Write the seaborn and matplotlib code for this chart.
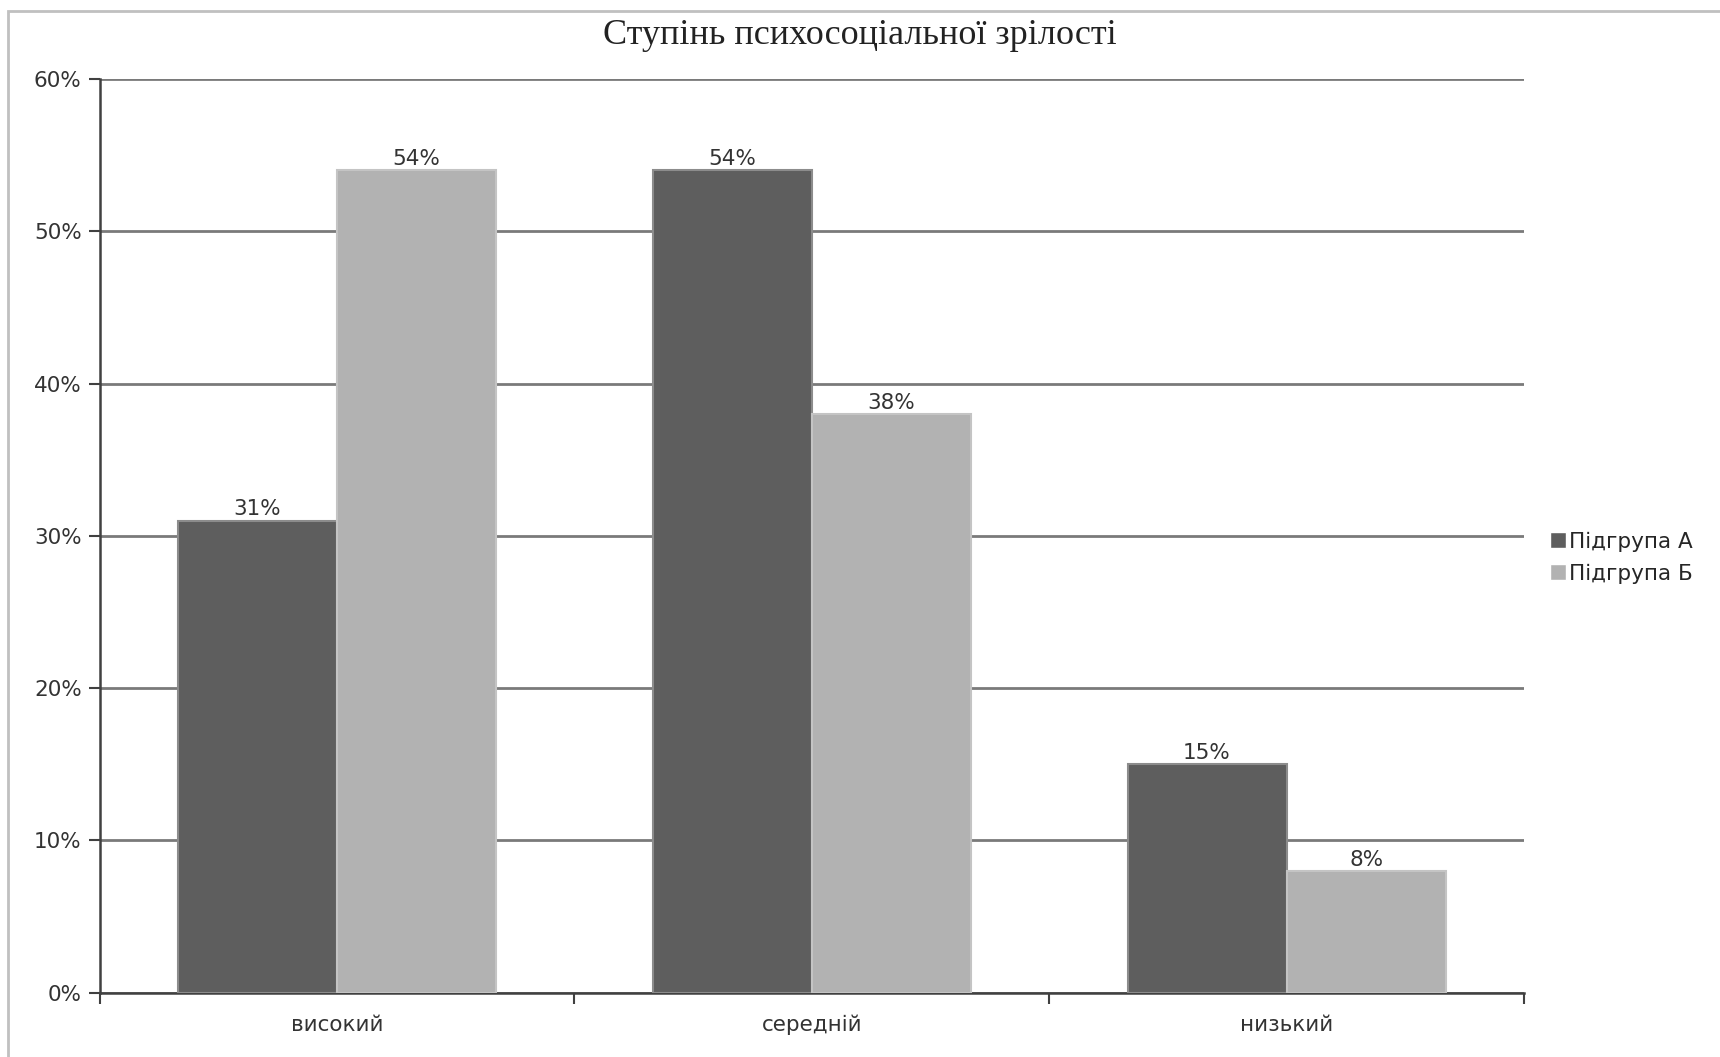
import matplotlib
matplotlib.use('Agg')
import matplotlib.pyplot as plt
import seaborn as sns
import pandas as pd
from matplotlib.patches import Rectangle
from matplotlib.ticker import FuncFormatter

sns.set_theme(style="white")
plt.rcParams['font.family'] = ['DejaVu Sans']

# Data
categories = ['високий', 'середній', 'низький']
groups = ['Підгрупа А', 'Підгрупа Б']
group_a = [31, 54, 15]
group_b = [54, 38, 8]
y_ticks = [0, 10, 20, 30, 40, 50, 60]

COLORS = ['#5e5e5e', '#b2b2b2']
EDGES = ['#8c8c8c', '#c4c4c4']
FS = 15.5

df = pd.DataFrame({
    'category': categories * 2,
    'group': [groups[0]] * 3 + [groups[1]] * 3,
    'value': group_a + group_b,
})

fig = plt.figure(figsize=(17.2, 10.57), dpi=100)
ax = fig.add_axes([0.058, 0.0608, 0.828, 0.8645])

sns.barplot(data=df, x='category', y='value', hue='group', order=categories,
            hue_order=groups, palette=COLORS, width=0.67, saturation=1,
            errorbar=None, ax=ax, zorder=3)

for i, cont in enumerate(ax.containers):
    for bar in cont:
        bar.set_edgecolor(EDGES[i])
        bar.set_linewidth(1.5)
    ax.bar_label(cont, fmt='%g%%', padding=1, fontsize=FS, color='#333333')

ax.set_ylim(0, 60)
ax.set_xlim(-0.5, 2.5)
ax.set_yticks(y_ticks)
ax.yaxis.set_major_formatter(FuncFormatter(lambda v, p: f'{v:.0f}%'))
ax.yaxis.grid(True, color='#7a7a7a', linewidth=2)
ax.set_axisbelow(True)

# category boundary ticks on x axis
ax.set_xticks([0, 1, 2])
ax.set_xticks([-0.5, 0.5, 1.5, 2.5], minor=True)
ax.tick_params(axis='x', which='major', length=0, pad=16, labelsize=FS, labelcolor='#333333')
ax.tick_params(axis='x', which='minor', length=8, width=1.5, color='#404040', direction='out', bottom=True)
ax.tick_params(axis='y', length=8, width=1.5, color='#404040', direction='out', left=True,
               pad=5, labelsize=FS, labelcolor='#333333')

for side in ['top', 'right']:
    ax.spines[side].set_visible(False)
for side in ['left', 'bottom']:
    ax.spines[side].set_color('#404040')
    ax.spines[side].set_linewidth(1.8)

ax.set_xlabel('')
ax.set_ylabel('')

ax.legend(loc='center left', bbox_to_anchor=(1.012, 0.476), frameon=False, fontsize=FS,
          handlelength=0.75, handleheight=0.75, handletextpad=0.15, labelspacing=0.55,
          borderaxespad=0)

fig.text(0.5, 0.966, 'Ступінь психосоціальної зрілості', ha='center', va='center',
         fontsize=26, family=['Liberation Serif', 'DejaVu Serif'], color='#222222')

# outer chart border
fig.patches.append(Rectangle((8 / 1720, -0.1), 1.2, 1 - 11 / 1057 + 0.1, transform=fig.transFigure,
                             fill=False, edgecolor='#c0c0c0', linewidth=2))

fig.savefig('out.png', dpi=100, facecolor='white')
